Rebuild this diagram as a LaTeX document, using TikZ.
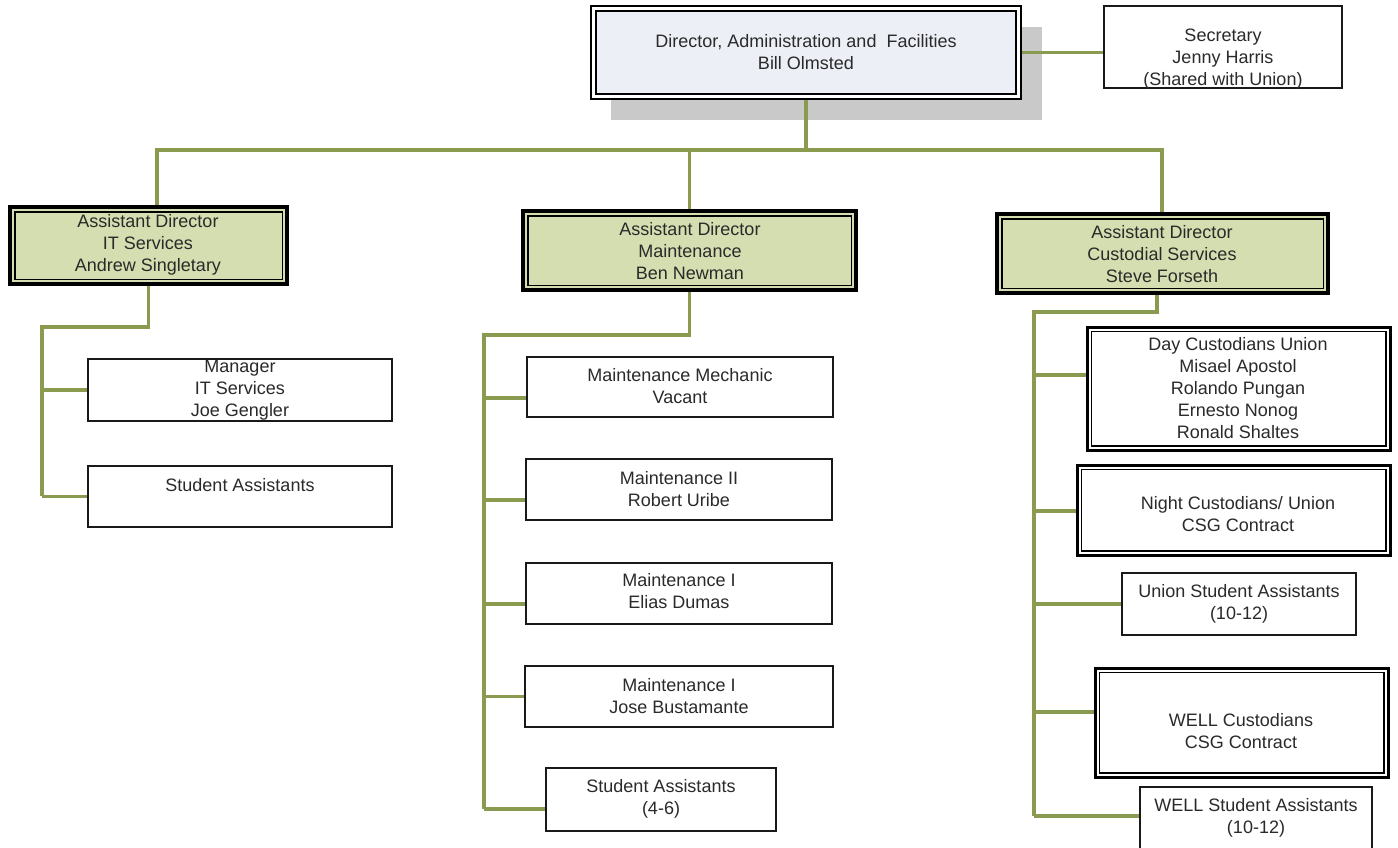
\documentclass[tikz,border=0pt]{standalone}
\usepackage{fontspec}
\setmainfont{Liberation Sans}
\usetikzlibrary{backgrounds}
\definecolor{linkgreen}{HTML}{8A9B50}
\definecolor{headfill}{HTML}{D5DEB0}
\definecolor{topfill}{HTML}{EDEFF7}
\definecolor{shadowgray}{HTML}{C9C9C9}
\definecolor{ink}{HTML}{2A2A2A}

% box from corner (x1,y1) to (x2,y2), in pixel-like units, y downwards
\newcommand\placebox[6]{\node[#1, minimum width=#5pt-#3pt, minimum height=#6pt-#4pt] (#2) at ({(#3+#5)/2},{(#4+#6)/2}) {};}

\begin{document}
\begin{tikzpicture}[x=1pt,y=-1pt,
  conn/.style={draw=linkgreen, line width=3.2pt},
  boxbase/.style={rectangle, inner sep=0pt, outer sep=0pt},
  unit/.style={boxbase, draw=black!90, line width=1.5pt, fill=white},
  dblunit/.style={boxbase, draw=black, line width=3pt, fill=white,
    path picture={\draw[black, line width=1.8pt]
      ([shift={(4.4pt,-4.4pt)}]path picture bounding box.north west) rectangle
      ([shift={(-4.4pt,4.4pt)}]path picture bounding box.south east);}},
  headunit/.style={boxbase, draw=black, line width=3.6pt, fill=headfill,
    path picture={\draw[black, line width=1.8pt]
      ([shift={(4.6pt,-4.6pt)}]path picture bounding box.north west) rectangle
      ([shift={(-4.6pt,4.6pt)}]path picture bounding box.south east);}},
  topunit/.style={boxbase, draw=black, line width=2pt, fill=white,
    path picture={\draw[black, line width=1.8pt, fill=topfill]
      ([shift={(4.8pt,-4.8pt)}]path picture bounding box.north west) rectangle
      ([shift={(-4.8pt,4.8pt)}]path picture bounding box.south east);}},
  txt/.style={align=center, font=\fontsize{18}{21.8}\selectfont, text=ink, inner sep=0pt}
]
\useasboundingbox (0,0) rectangle (1398,848);

% ---- boxes ----
\placebox{topunit}{dir}{591}{6}{1021}{99}
\placebox{unit}{sec}{1104}{6}{1342}{88}

\placebox{headunit}{adit}{10}{207}{287}{284}
\placebox{headunit}{admt}{523}{211}{856}{290}
\placebox{headunit}{adcs}{997}{214}{1328}{293}

\placebox{unit}{mgr}{88}{359}{392}{421}
\placebox{unit}{itsa}{88}{466}{392}{527}

\placebox{unit}{mm}{527}{357}{833}{417}
\placebox{unit}{mtwo}{526}{459}{832}{520}
\placebox{unit}{mone}{526}{563}{832}{624}
\placebox{unit}{monb}{525}{666}{833}{727}
\placebox{unit}{msa}{546}{768}{776}{831}

\placebox{dblunit}{day}{1087}{327}{1390}{450}
\placebox{dblunit}{night}{1077}{465}{1390}{555}
\placebox{unit}{usa}{1122}{573}{1356}{635}
\placebox{dblunit}{wcust}{1095}{668}{1388}{777}
\placebox{unit}{wsa}{1140}{787}{1372}{850}

% ---- labels ----
\node[txt] (dirT) at (806,52) {Director, Administration and\ \ Facilities\\Bill Olmsted};
\node[txt] (secT) at (1223,59) {Secretary\\Jenny Harris\\(Shared with Union)};

\node[txt] (aditT) at (148,245) {Assistant Director\\IT Services\\Andrew Singletary};
\node[txt] (admtT) at (690,251) {Assistant Director\\Maintenance\\Ben Newman};
\node[txt] (adcsT) at (1162,254) {Assistant Director\\Custodial Services\\Steve Forseth};

\node[txt] (mgrT) at (240,390) {Manager\\IT Services\\Joe Gengler};
\node[txt] (itsaT) at (240,485) {Student Assistants};

\node[txt] (mmT) at (680,386) {Maintenance Mechanic\\Vacant};
\node[txt] (mtwoT) at (679,489) {Maintenance II\\Robert Uribe};
\node[txt] (moneT) at (679,591) {Maintenance I\\Elias Dumas};
\node[txt] (monbT) at (679,696) {Maintenance I\\Jose Bustamante};
\node[txt] (msaT) at (661,799) {Student Assistants\\(4-6)};

\node[txt] (dayT) at (1238,388) {Day Custodians Union\\Misael Apostol\\Rolando Pungan\\Ernesto Nonog\\Ronald Shaltes};
\node[txt] (nightT) at (1238,514) {Night Custodians/ Union\\CSG Contract};
\node[txt] (usaT) at (1239,604) {Union Student Assistants\\(10-12)};
\node[txt] (wcustT) at (1241,731) {WELL Custodians\\CSG Contract};
\node[txt] (wsaT) at (1256,818) {WELL Student Assistants\\(10-12)};

% ---- connectors and shadow, behind the boxes ----
\begin{scope}[on background layer]
  \fill[shadowgray] (611,27) rectangle (1042,120);

  \coordinate (busL) at (157,150);
  \coordinate (busR) at (1162,150);
  \draw[conn] (dir.south) -- (dir.south |- busL);
  \draw[conn] (adit.north -| busL) |- (busR) -- (busR |- adcs.north);
  \draw[conn] (admt.north) -- (admt.north |- busL);
  \draw[conn] (dir.east) -- (dir.east -| sec.west);

  % IT services
  \coordinate (itTop) at (42,327);
  \coordinate (itBot) at (42,496);
  \draw[conn] (adit.south) |- (itTop) -- (itBot);
  \draw[conn] (mgr.west) -- (mgr.west -| itTop);
  \draw[conn] (itsa.west) -- (itsa.west -| itTop);

  % maintenance
  \coordinate (mtTop) at (484,335);
  \coordinate (mtBot) at (484,809);
  \draw[conn] (admt.south) |- (mtTop) -- (mtBot);
  \draw[conn] ([yshift=-11pt]mm.west) -- ([yshift=-11pt]mm.west -| mtTop);
  \draw[conn] ([yshift=-10.5pt]mtwo.west) -- ([yshift=-10.5pt]mtwo.west -| mtTop);
  \draw[conn] ([yshift=-10.5pt]mone.west) -- ([yshift=-10.5pt]mone.west -| mtTop);
  \draw[conn] (monb.west) -- (monb.west -| mtTop);
  \draw[conn] ([yshift=-9.5pt]msa.west) -- ([yshift=-9.5pt]msa.west -| mtTop);

  % custodial services
  \coordinate (csTop) at (1034,312);
  \coordinate (csBot) at (1034,816);
  \draw[conn] ([xshift=-5.5pt]adcs.south) |- (csTop) -- (csBot);
  \draw[conn] ([yshift=13.5pt]day.west) -- ([yshift=13.5pt]day.west -| csTop);
  \draw[conn] ([yshift=-1pt]night.west) -- ([yshift=-1pt]night.west -| csTop);
  \draw[conn] (usa.west) -- (usa.west -| csTop);
  \draw[conn] ([yshift=10.5pt]wcust.west) -- ([yshift=10.5pt]wcust.west -| csTop);
  \draw[conn] ([yshift=2.5pt]wsa.west) -- ([yshift=2.5pt]wsa.west -| csTop);
\end{scope}
\end{tikzpicture}
\end{document}
